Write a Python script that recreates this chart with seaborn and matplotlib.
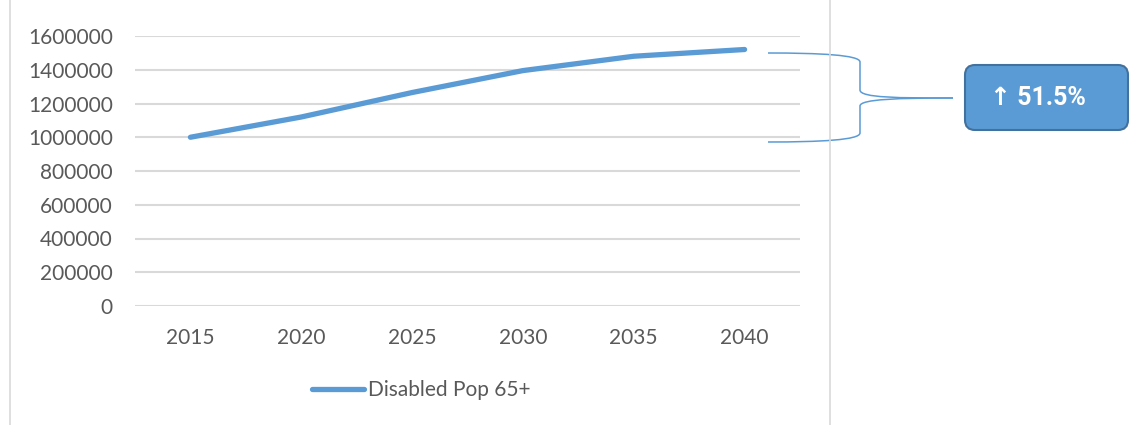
import matplotlib
matplotlib.use("Agg")
import matplotlib.pyplot as plt
import seaborn as sns
import pandas as pd
from matplotlib.path import Path
from matplotlib.patches import PathPatch, FancyBboxPatch
from matplotlib.lines import Line2D

years = ["2015", "2020", "2025", "2030", "2035", "2040"]
disabled_pop = [1000000, 1120000, 1265000, 1395000, 1480000, 1520000]
series_name = "Disabled Pop 65+"
y_ticks = [0, 200000, 400000, 600000, 800000, 1000000, 1200000, 1400000, 1600000]
callout_text = "\u2191 51.5%"

BLUE = "#5B9BD5"
GRID = "#D9D9D9"
TEXT = "#595959"

sns.set_theme(style="white")
plt.rcParams["font.family"] = ["Lato", "DejaVu Sans"]

W, H = 1135, 425
FS = 15
fig = plt.figure(figsize=(W / 100, H / 100), dpi=100)

ax = fig.add_axes([135 / W, 1 - 306 / H, 665 / W, 270 / H])
df = pd.DataFrame({"year": years, "value": disabled_pop})
sns.lineplot(data=df, x="year", y="value", ax=ax, color=BLUE, linewidth=3.8,
             solid_capstyle="round", sort=False)
ax.set_xlim(-0.5, len(years) - 0.5)
ax.set_ylim(0, 1600000)
ax.set_yticks(y_ticks)
ax.set_yticklabels([str(v) for v in y_ticks])
ax.yaxis.grid(True, color=GRID, linewidth=1.5)
ax.xaxis.grid(False)
ax.set_axisbelow(True)
for s in ax.spines.values():
    s.set_visible(False)
ax.tick_params(axis="both", length=0, labelsize=FS, labelcolor=TEXT)
ax.tick_params(axis="y", pad=16)
ax.tick_params(axis="x", pad=16)
ax.set_xlabel("")
ax.set_ylabel("")

# overlay in pixel coords
ov = fig.add_axes([0, 0, 1, 1])
ov.set_xlim(0, W)
ov.set_ylim(H, 0)
ov.axis("off")
ov.patch.set_alpha(0)

# chart border (vertical edges visible)
ov.add_line(Line2D([10, 10], [0, H], color=GRID, linewidth=1.2))
ov.add_line(Line2D([830, 830], [0, H], color=GRID, linewidth=1.2))

# legend
leg_handle = Line2D([0], [0], color=BLUE, linewidth=3.8, solid_capstyle="round")
fig.legend([leg_handle], [series_name], loc="center", bbox_to_anchor=(421 / W, 1 - 390 / H),
           frameon=False, fontsize=FS, labelcolor=TEXT, handlelength=2.5,
           handletextpad=0.2)

# brace
codes = [Path.MOVETO, Path.CURVE4, Path.CURVE4, Path.CURVE4,
         Path.LINETO,
         Path.CURVE4, Path.CURVE4, Path.CURVE4]
verts = [(768, 53), (820, 53), (860, 55), (860, 62),
         (860, 90),
         (860, 98), (900, 98), (953, 98)]
ov.add_patch(PathPatch(Path(verts, codes), fill=False, edgecolor=BLUE, linewidth=1.1))
verts2 = [(768, 142), (820, 142), (860, 140), (860, 133),
          (860, 106),
          (860, 99), (900, 98), (953, 98)]
ov.add_patch(PathPatch(Path(verts2, codes), fill=False, edgecolor=BLUE, linewidth=1.1))

# callout box
box = FancyBboxPatch((965, 65), 163, 65, boxstyle="round,pad=0,rounding_size=10",
                     facecolor=BLUE, edgecolor="#41719C", linewidth=1.5)
ov.add_patch(box)
ov.text(990, 98, callout_text, color="white", fontsize=18, fontweight="bold",
        ha="left", va="center", family=["Roboto", "DejaVu Sans"])

fig.savefig("out.png", dpi=100)
